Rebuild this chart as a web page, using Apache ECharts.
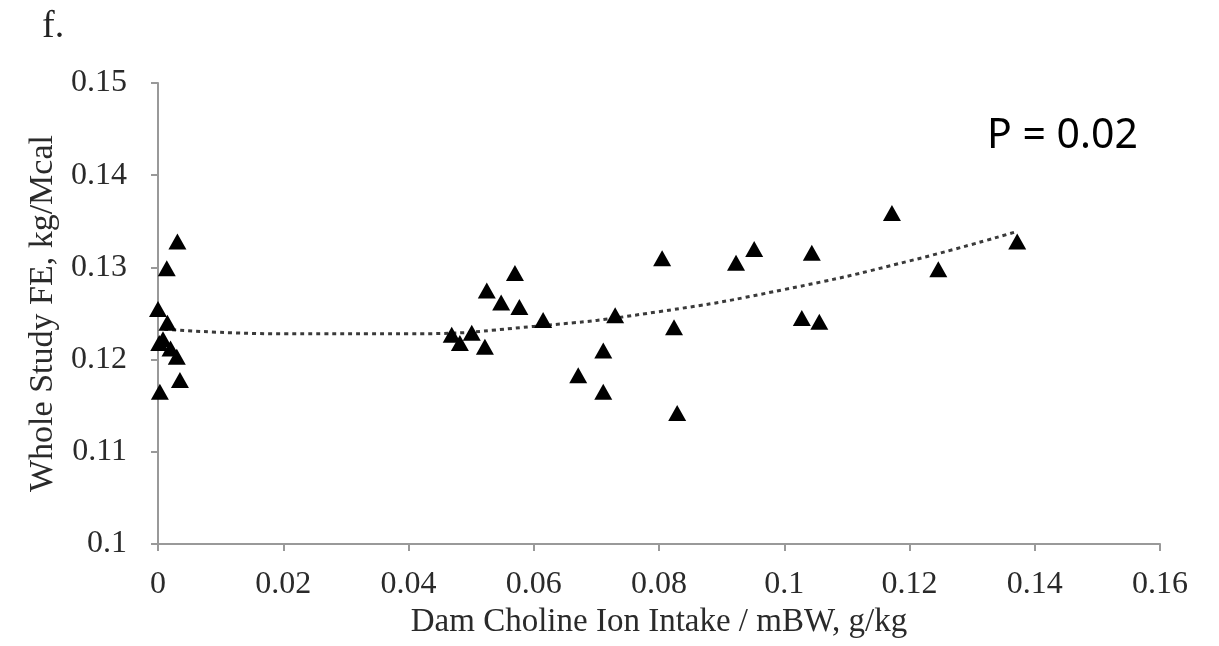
<!DOCTYPE html>
<html>
<head>
<meta charset="utf-8">
<script src="https://cdn.jsdelivr.net/npm/echarts@6/dist/echarts.min.js"></script>
<style>
html,body{margin:0;padding:0;background:#fff;}
#chart{width:1219px;height:646px;}
</style>
</head>
<body>
<div id="chart"></div>
<script>
// Scatter data
const intakeX = [0.0000, 0.0015, 0.0002, 0.0008, 0.0020, 0.0030, 0.0035, 0.0003, 0.0014, 0.0031,
  0.0469, 0.0482, 0.0501, 0.0522, 0.0525, 0.0548, 0.0570, 0.0577, 0.0615,
  0.0671, 0.0711, 0.0711, 0.0730, 0.0805, 0.0824, 0.0829,
  0.0923, 0.0952, 0.1028, 0.1044, 0.1056,
  0.1172, 0.1246, 0.1372];
const feY = [0.1255, 0.1240, 0.1218, 0.1222, 0.1212, 0.1203, 0.1178, 0.1165, 0.1299, 0.1328,
  0.1227, 0.1218, 0.1229, 0.1214, 0.1275, 0.1262, 0.1294, 0.1257, 0.1243,
  0.1183, 0.1210, 0.1165, 0.1248, 0.1310, 0.1235, 0.1142,
  0.1305, 0.1320, 0.1245, 0.1316, 0.1241,
  0.1359, 0.1298, 0.1328];
// Trend line points
const trendX = [0.0010, 0.02, 0.04, 0.06, 0.08, 0.10, 0.12, 0.1372];
const trendY = [0.1233, 0.1228, 0.1228, 0.1236, 0.1252, 0.1276, 0.1307, 0.1339];
const xTicks = ['0', '0.02', '0.04', '0.06', '0.08', '0.1', '0.12', '0.14', '0.16'];
const yTicks = ['0.1', '0.11', '0.12', '0.13', '0.14', '0.15'];
const xTitle = 'Dam Choline Ion Intake / mBW, g/kg';
const yTitle = 'Whole Study FE, kg/Mcal';
const panelLabel = 'f.';
const pLabel = 'P = 0.02';

const chart = echarts.init(document.getElementById('chart'), null, {renderer: 'canvas'});
const serif = '"Liberation Serif", "DejaVu Serif", serif';
const axisLineStyle = {color: '#999999', width: 2};
chart.setOption({
  backgroundColor: '#ffffff',
  animation: false,
  grid: {left: 158, right: 59, top: 83, bottom: 102, containLabel: false},
  xAxis: {
    type: 'value', min: 0, max: 0.16, interval: 0.02,
    axisLine: {show: true, onZero: false, lineStyle: axisLineStyle},
    axisTick: {show: true, inside: false, length: 7, lineStyle: axisLineStyle},
    splitLine: {show: false},
    axisLabel: {
      margin: 25, color: '#2a2a2a', fontFamily: serif, fontSize: 32,
      formatter: (v) => xTicks[Math.round(v / 0.02)]
    },
    name: xTitle, nameLocation: 'middle', nameGap: 49,
    nameTextStyle: {color: '#2a2a2a', fontFamily: serif, fontSize: 33}
  },
  yAxis: {
    type: 'value', min: 0.1, max: 0.15, interval: 0.01,
    axisLine: {show: true, onZero: false, lineStyle: axisLineStyle},
    axisTick: {show: true, inside: false, length: 7, lineStyle: axisLineStyle},
    splitLine: {show: false},
    axisLabel: {
      margin: 31, color: '#2a2a2a', fontFamily: serif, fontSize: 32,
      formatter: (v) => yTicks[Math.round((v - 0.1) / 0.01)]
    },
    name: yTitle, nameLocation: 'middle', nameGap: 94, nameRotate: 90,
    nameTextStyle: {color: '#2a2a2a', fontFamily: serif, fontSize: 34}
  },
  graphic: [
    {type: 'text', left: 42, top: 8, style: {text: panelLabel, font: '38px "Liberation Serif", serif', fill: '#222'}},
    {type: 'text', left: 987, top: 116, style: {text: pLabel, font: '41px "Noto Sans", sans-serif', fill: '#000'}}
  ],
  series: [
    {
      type: 'line',
      data: trendX.map((x, i) => [x, trendY[i]]),
      smooth: true, showSymbol: false, symbol: 'none',
      lineStyle: {color: '#3a3a3a', width: 3, type: [4, 4]},
      z: 2
    },
    {
      type: 'scatter',
      data: intakeX.map((x, i) => [x, feY[i]]),
      symbol: 'triangle', symbolSize: [18, 16],
      itemStyle: {color: '#000', opacity: 1},
      z: 3
    }
  ]
});
</script>
</body>
</html>
